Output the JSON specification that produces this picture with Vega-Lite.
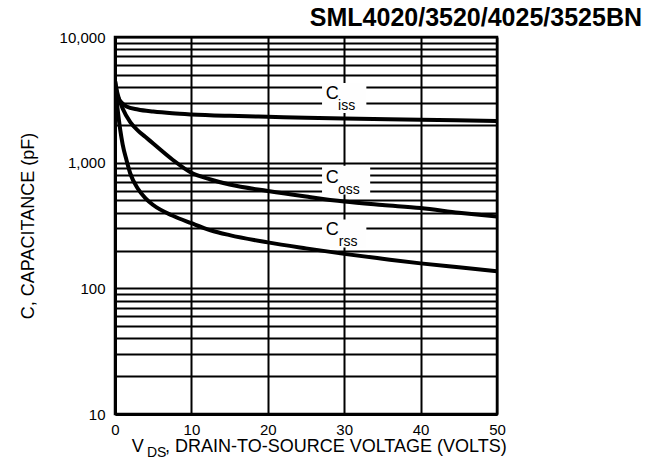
{
  "$schema": "https://vega.github.io/schema/vega-lite/v6.json",
  "width": 382,
  "height": 377,
  "autosize": {"type": "none"},
  "padding": {"left": 115, "top": 37, "right": 165, "bottom": 48},
  "background": "white",
  "config": {
    "view": {"stroke": "black", "strokeWidth": 2.5},
    "font": "Liberation Sans"
  },
  "datasets": {
    "curves": [
      {"series": "Ciss", "v": 0, "c": 4500},
      {"series": "Ciss", "v": 0.3, "c": 3400},
      {"series": "Ciss", "v": 1, "c": 2950},
      {"series": "Ciss", "v": 1.5, "c": 2800},
      {"series": "Ciss", "v": 3, "c": 2650},
      {"series": "Ciss", "v": 5, "c": 2550},
      {"series": "Ciss", "v": 7.5, "c": 2470},
      {"series": "Ciss", "v": 10, "c": 2420},
      {"series": "Ciss", "v": 15, "c": 2360},
      {"series": "Ciss", "v": 20, "c": 2320},
      {"series": "Ciss", "v": 25, "c": 2280},
      {"series": "Ciss", "v": 30, "c": 2250},
      {"series": "Ciss", "v": 40, "c": 2200},
      {"series": "Ciss", "v": 50, "c": 2150},
      {"series": "Coss", "v": 0, "c": 4500},
      {"series": "Coss", "v": 0.3, "c": 3600},
      {"series": "Coss", "v": 0.7, "c": 3000},
      {"series": "Coss", "v": 1, "c": 2700},
      {"series": "Coss", "v": 2, "c": 2100},
      {"series": "Coss", "v": 3, "c": 1800},
      {"series": "Coss", "v": 4, "c": 1600},
      {"series": "Coss", "v": 5, "c": 1420},
      {"series": "Coss", "v": 7.5, "c": 1060},
      {"series": "Coss", "v": 10, "c": 830},
      {"series": "Coss", "v": 12.5, "c": 735},
      {"series": "Coss", "v": 15, "c": 670},
      {"series": "Coss", "v": 20, "c": 595},
      {"series": "Coss", "v": 25, "c": 537},
      {"series": "Coss", "v": 30, "c": 490},
      {"series": "Coss", "v": 35, "c": 460},
      {"series": "Coss", "v": 40, "c": 435},
      {"series": "Coss", "v": 45, "c": 400},
      {"series": "Coss", "v": 50, "c": 372},
      {"series": "Crss", "v": 0, "c": 4200},
      {"series": "Crss", "v": 0.3, "c": 2800},
      {"series": "Crss", "v": 0.7, "c": 1800},
      {"series": "Crss", "v": 1, "c": 1400},
      {"series": "Crss", "v": 1.5, "c": 1050},
      {"series": "Crss", "v": 2, "c": 820},
      {"series": "Crss", "v": 3, "c": 620},
      {"series": "Crss", "v": 4, "c": 520},
      {"series": "Crss", "v": 5, "c": 460},
      {"series": "Crss", "v": 7.5, "c": 380},
      {"series": "Crss", "v": 10, "c": 330},
      {"series": "Crss", "v": 12.5, "c": 290},
      {"series": "Crss", "v": 15, "c": 265},
      {"series": "Crss", "v": 20, "c": 232},
      {"series": "Crss", "v": 25, "c": 208},
      {"series": "Crss", "v": 30, "c": 188},
      {"series": "Crss", "v": 35, "c": 172},
      {"series": "Crss", "v": 40, "c": 158},
      {"series": "Crss", "v": 45, "c": 147},
      {"series": "Crss", "v": 50, "c": 137}
    ]
  },
  "layer": [
    {
      "data": {"name": "curves"},
      "mark": {"type": "line", "color": "black", "strokeWidth": 4, "interpolate": "monotone", "clip": true},
      "encoding": {
        "x": {
          "field": "v", "type": "quantitative",
          "scale": {"domain": [0, 50], "nice": false},
          "axis": {
            "values": [0, 5, 10, 15, 20, 25, 30, 35, 40, 45, 50],
            "labelExpr": "datum.value % 10 == 0 ? datum.label : ''",
            "labelOverlap": false,
            "labelFlush": false,
            "grid": true, "gridColor": "black", "gridWidth": 2, "gridOpacity": 1,
            "ticks": false,
            "domainColor": "black", "domainWidth": 3,
            "labelFontSize": 15, "labelColor": "black", "labelPadding": 8,
            "labelFont": "Liberation Sans",
            "title": null
          }
        },
        "y": {
          "field": "c", "type": "quantitative",
          "scale": {"type": "log", "domain": [10, 10000], "nice": false},
          "axis": {
            "values": [10, 20, 30, 40, 50, 60, 70, 80, 90, 100, 200, 300, 400, 500, 600, 700, 800, 900, 1000, 2000, 3000, 4000, 5000, 6000, 7000, 8000, 9000, 10000],
            "labelExpr": "indexof([10, 100, 1000, 10000], datum.value) >= 0 ? format(datum.value, ',') : ''",
            "labelOverlap": false,
            "labelFlush": false,
            "grid": true, "gridColor": "black", "gridWidth": 2, "gridOpacity": 1,
            "ticks": false,
            "domainColor": "black", "domainWidth": 3,
            "labelFontSize": 15, "labelColor": "black", "labelPadding": 10,
            "labelFont": "Liberation Sans",
            "title": "C, CAPACITANCE (pF)",
            "titleFont": "Liberation Sans",
            "titleFontSize": 18, "titleFontWeight": "normal", "titleColor": "black",
            "titlePadding": 22
          }
        },
        "detail": {"field": "series"}
      }
    },
    {
      "data": {"values": [{}]},
      "mark": {"type": "rect", "color": "#fefefe", "fillOpacity": 1, "opacity": 1},
      "encoding": {"x": {"datum": 27.1}, "x2": {"datum": 32.9}, "y": {"datum": 2490}, "y2": {"datum": 4310}}
    },
    {
      "data": {"values": [{}]},
      "mark": {"type": "rect", "color": "#fefefe", "fillOpacity": 1, "opacity": 1},
      "encoding": {"x": {"datum": 27.1}, "x2": {"datum": 33.4}, "y": {"datum": 557}, "y2": {"datum": 946}}
    },
    {
      "data": {"values": [{}]},
      "mark": {"type": "rect", "color": "#fefefe", "fillOpacity": 1, "opacity": 1},
      "encoding": {"x": {"datum": 27.1}, "x2": {"datum": 32.9}, "y": {"datum": 211}, "y2": {"datum": 353}}
    },
    {
      "data": {"values": [{}]},
      "mark": {"type": "text", "text": "C", "fontSize": 18, "align": "left", "baseline": "alphabetic", "color": "black", "font": "Liberation Sans"},
      "encoding": {"x": {"datum": 27.6}, "y": {"datum": 3220}}
    },
    {
      "data": {"values": [{}]},
      "mark": {"type": "text", "text": "iss", "fontSize": 14, "align": "left", "baseline": "alphabetic", "color": "black", "font": "Liberation Sans"},
      "encoding": {"x": {"datum": 29.2}, "y": {"datum": 2630}}
    },
    {
      "data": {"values": [{}]},
      "mark": {"type": "text", "text": "C", "fontSize": 18, "align": "left", "baseline": "alphabetic", "color": "black", "font": "Liberation Sans"},
      "encoding": {"x": {"datum": 27.6}, "y": {"datum": 693}}
    },
    {
      "data": {"values": [{}]},
      "mark": {"type": "text", "text": "oss", "fontSize": 14, "align": "left", "baseline": "alphabetic", "color": "black", "font": "Liberation Sans"},
      "encoding": {"x": {"datum": 29.2}, "y": {"datum": 567}}
    },
    {
      "data": {"values": [{}]},
      "mark": {"type": "text", "text": "C", "fontSize": 18, "align": "left", "baseline": "alphabetic", "color": "black", "font": "Liberation Sans"},
      "encoding": {"x": {"datum": 27.6}, "y": {"datum": 264}}
    },
    {
      "data": {"values": [{}]},
      "mark": {"type": "text", "text": "rss", "fontSize": 14, "align": "left", "baseline": "alphabetic", "color": "black", "font": "Liberation Sans"},
      "encoding": {"x": {"datum": 29.3}, "y": {"datum": 219}}
    },
    {
      "data": {"values": [{}]},
      "mark": {"type": "text", "text": "V", "fontSize": 18, "align": "left", "baseline": "alphabetic", "dy": 38, "color": "black", "font": "Liberation Sans"},
      "encoding": {"x": {"datum": 2.2}, "y": {"datum": 10}}
    },
    {
      "data": {"values": [{}]},
      "mark": {"type": "text", "text": "DS", "fontSize": 14, "align": "left", "baseline": "alphabetic", "dy": 43, "color": "black", "font": "Liberation Sans"},
      "encoding": {"x": {"datum": 4.19}, "y": {"datum": 10}}
    },
    {
      "data": {"values": [{}]},
      "mark": {"type": "text", "text": ", DRAIN-TO-SOURCE VOLTAGE (VOLTS)", "fontSize": 18, "align": "left", "baseline": "alphabetic", "dy": 38, "color": "black", "font": "Liberation Sans"},
      "encoding": {"x": {"datum": 6.54}, "y": {"datum": 10}}
    },
    {
      "data": {"values": [{}]},
      "mark": {"type": "text", "text": "SML4020/3520/4025/3525BN", "fontSize": 25, "fontWeight": "bold", "align": "right", "baseline": "alphabetic", "dx": 145, "dy": -11, "color": "black", "font": "Liberation Sans"},
      "encoding": {"x": {"datum": 50}, "y": {"datum": 10000}}
    }
  ]
}
